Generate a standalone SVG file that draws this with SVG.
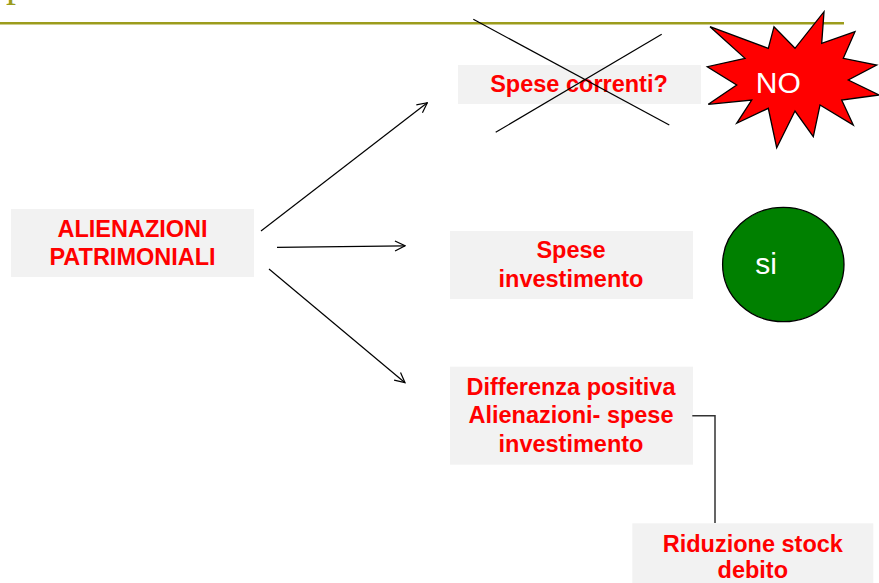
<svg xmlns="http://www.w3.org/2000/svg" width="879" height="583" viewBox="0 0 879 583">
<defs>
<style>
.box{fill:#f2f2f2;}
.lbl{font-family:"Liberation Sans",Arial,sans-serif;font-weight:bold;font-size:23.5px;fill:#ff0000;text-anchor:middle;}
.wt{font-family:"Liberation Sans",Arial,sans-serif;font-size:30px;fill:#ffffff;text-anchor:middle;}
.arr{stroke:#000;stroke-width:1.2;fill:none;marker-end:url(#ah);}
.x{stroke:#000;stroke-width:1.2;}
</style>
<marker id="ah" viewBox="0 0 12 12" refX="11" refY="6" markerWidth="12" markerHeight="12" markerUnits="userSpaceOnUse" orient="auto">
<path d="M1,1 L11,6 L1,11" fill="none" stroke="#000" stroke-width="1.2"/>
</marker>
</defs>
<rect width="879" height="583" fill="#ffffff"/>
<text x="6" y="-4" font-family="Liberation Serif,serif" font-size="40" fill="#9c9c1c">p</text>
<line x1="0" y1="23.2" x2="844" y2="23.2" stroke="#9c9c1c" stroke-width="2.5"/>

<g id="alienazioni">
<rect class="box" x="11" y="209" width="243" height="68"/>
<text class="lbl" x="132.5" y="236.7">ALIENAZIONI</text>
<text class="lbl" x="132.5" y="265">PATRIMONIALI</text>
</g>

<g id="spese-correnti">
<rect class="box" x="458" y="65" width="243" height="39"/>
<text class="lbl" x="579" y="92">Spese correnti?</text>
<line class="x" x1="473.3" y1="19.3" x2="669.3" y2="125"/>
<line class="x" x1="661.7" y1="34.3" x2="495.7" y2="132.3"/>
</g>

<g id="no">
<polygon points="710,26.7 745,58.3 707.3,66.7 736.7,85 708.3,104.3 751.7,100 736.7,123.3 768.3,108.3 776.7,147.7 795,111 813.3,136.7 820,105 853.3,125 841.7,100 879,95 848.3,80 876.7,65 843.3,58.3 855,31.7 821.7,43.3 824,11.7 795,48.3 774,26.7 768.3,48.3" fill="#ff0000" stroke="#000" stroke-width="1.3" stroke-linejoin="miter"/>
<text class="wt" x="778.3" y="92.7">NO</text>
</g>

<g id="spese-investimento">
<rect class="box" x="450" y="231" width="243" height="68"/>
<text class="lbl" x="571" y="258.3">Spese</text>
<text class="lbl" x="571" y="286.7">investimento</text>
</g>

<g id="si">
<ellipse cx="783.3" cy="264.5" rx="60.7" ry="57.2" fill="#008000" stroke="#000" stroke-width="1.3"/>
<text class="wt" x="766" y="274">si</text>
</g>

<g id="differenza">
<rect class="box" x="450" y="366.7" width="243" height="98"/>
<text class="lbl" x="571" y="395">Differenza positiva</text>
<text class="lbl" x="571" y="423.3">Alienazioni- spese</text>
<text class="lbl" x="571" y="451.7">investimento</text>
</g>

<g id="riduzione">
<rect class="box" x="632.3" y="523.3" width="241" height="70"/>
<text class="lbl" x="752.8" y="551.7">Riduzione stock</text>
<text class="lbl" x="752.8" y="578">debito</text>
</g>

<g id="connectors">
<line class="arr" x1="261" y1="231" x2="427.3" y2="102.7"/>
<line class="arr" x1="277" y1="247.3" x2="405" y2="245.8"/>
<line class="arr" x1="269" y1="269" x2="405" y2="382.7"/>
<polyline points="692.3,415.7 715,415.7 715,523" fill="none" stroke="#333" stroke-width="1.5"/>
</g>
</svg>
